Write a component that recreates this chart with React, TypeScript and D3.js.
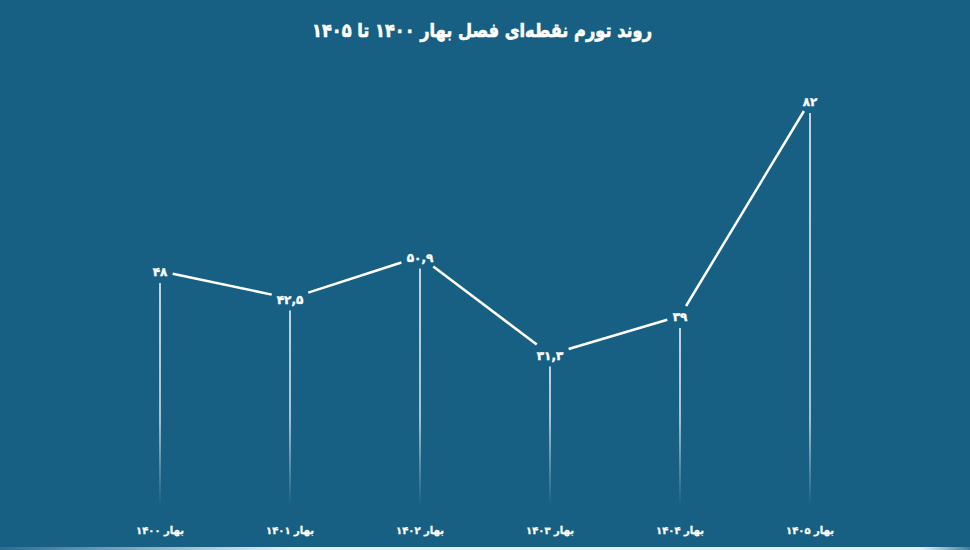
import React, { useEffect, useRef } from "react";
import * as d3 from "d3";

const categories = ["بهار ۱۴۰۰", "بهار ۱۴۰۱", "بهار ۱۴۰۲", "بهار ۱۴۰۳", "بهار ۱۴۰۴", "بهار ۱۴۰۵"];
const values = [48, 42.5, 50.9, 31.3, 39, 82];
const valueLabels = ["۴۸", "۴۲,۵", "۵۰,۹", "۳۱,۳", "۳۹", "۸۲"];
const title = "روند تورم نقطه‌ای فصل بهار ۱۴۰۰ تا ۱۴۰۵";

const W = 970;
const H = 550;
const FONT = "'DejaVu Sans', sans-serif";

const App = () => {
  const svgRef = useRef<SVGSVGElement | null>(null);

  useEffect(() => {
    const svg = d3.select(svgRef.current);
    svg.selectAll("*").remove();
    svg.attr("width", W).attr("height", H);

    const defs = svg.append("defs");
    const bottom = 505;

    const x = d3.scalePoint<string>().domain(categories).range([160, 810]);
    const y = d3.scaleLinear().domain([0, 82]).range([511, 101]);

    // background
    svg.append("rect").attr("width", W).attr("height", H).attr("fill", "#176083");

    // bottom strip
    const strip = defs.append("linearGradient").attr("id", "strip").attr("x1", "0").attr("x2", "1");
    strip.append("stop").attr("offset", "0").attr("stop-color", "#dfe9ef").attr("stop-opacity", 0.1);
    strip.append("stop").attr("offset", "0.3").attr("stop-color", "#e8eff3").attr("stop-opacity", 1);
    strip.append("stop").attr("offset", "0.95").attr("stop-color", "#e8eff3").attr("stop-opacity", 1);
    strip.append("stop").attr("offset", "1").attr("stop-color", "#e8eff3").attr("stop-opacity", 0.2);
    svg.append("rect").attr("x", 0).attr("y", 547).attr("width", W).attr("height", 3).attr("fill", "url(#strip)");

    // title
    svg
      .append("text")
      .attr("x", 482)
      .attr("y", 37)
      .attr("text-anchor", "middle")
      .attr("direction", "rtl")
      .attr("fill", "#ffffff")
      .attr("stroke", "#ffffff")
      .attr("stroke-width", 0.6)
      .attr("font-family", FONT)
      .attr("font-weight", "bold")
      .attr("font-size", 19)
      .attr("textLength", 340)
      .attr("lengthAdjust", "spacingAndGlyphs")
      .text(title);

    // drop lines with fade
    categories.forEach((c, i) => {
      const top = y(values[i]) + 12;
      const gid = `drop${i}`;
      const g = defs
        .append("linearGradient")
        .attr("id", gid)
        .attr("gradientUnits", "userSpaceOnUse")
        .attr("x1", 0)
        .attr("x2", 0)
        .attr("y1", top)
        .attr("y2", bottom);
      const fadeStart = Math.max(0, Math.min(1, (420 - top) / (bottom - top)));
      g.append("stop").attr("offset", 0).attr("stop-color", "#c7dbe6").attr("stop-opacity", 0.95);
      g.append("stop").attr("offset", fadeStart).attr("stop-color", "#c7dbe6").attr("stop-opacity", 0.8);
      g.append("stop").attr("offset", 1).attr("stop-color", "#c7dbe6").attr("stop-opacity", 0);
      svg
        .append("rect")
        .attr("x", x(c)! - 1)
        .attr("y", top)
        .attr("width", 2)
        .attr("height", bottom - top)
        .attr("fill", `url(#${gid})`);
    });

    // value labels
    const pts = categories.map((c, i) => [x(c)!, y(values[i])] as [number, number]);
    const labels = svg
      .append("g")
      .selectAll("text")
      .data(pts)
      .join("text")
      .attr("x", (d) => d[0])
      .attr("y", (d) => d[1] + 5)
      .attr("text-anchor", "middle")
      .attr("fill", "#ffffff")
      .attr("stroke", "#ffffff")
      .attr("stroke-width", 0.4)
      .attr("font-family", FONT)
      .attr("font-weight", "bold")
      .attr("font-size", 12)
      .text((_, i) => valueLabels[i]);

    const halfW = labels.nodes().map((n) => (n as SVGTextElement).getBBox().width / 2 + 5);
    const halfH = 10;
    const trim = (hw: number, ux: number, uy: number) =>
      Math.min(Math.abs(ux) > 1e-6 ? hw / Math.abs(ux) : Infinity, Math.abs(uy) > 1e-6 ? halfH / Math.abs(uy) : Infinity);

    // connecting segments, trimmed around the labels
    for (let i = 0; i < pts.length - 1; i++) {
      const [x0, y0] = pts[i];
      const [x1, y1] = pts[i + 1];
      const len = Math.hypot(x1 - x0, y1 - y0);
      const ux = (x1 - x0) / len;
      const uy = (y1 - y0) / len;
      const g0 = trim(halfW[i], ux, uy);
      const g1 = trim(halfW[i + 1], ux, uy);
      svg
        .append("line")
        .attr("x1", x0 + ux * g0)
        .attr("y1", y0 + uy * g0)
        .attr("x2", x1 - ux * g1)
        .attr("y2", y1 - uy * g1)
        .attr("stroke", "#ffffff")
        .attr("stroke-width", 2.5);
    }

    // category labels
    svg
      .append("g")
      .selectAll("text")
      .data(categories)
      .join("text")
      .attr("x", (d) => x(d)!)
      .attr("y", 534)
      .attr("text-anchor", "middle")
      .attr("direction", "rtl")
      .attr("fill", "#ffffff")
      .attr("stroke", "#ffffff")
      .attr("stroke-width", 0.3)
      .attr("font-family", FONT)
      .attr("font-weight", "bold")
      .attr("font-size", 10)
      .text((d) => d);
  }, []);

  return (
    <div style={{ position: "fixed", left: 0, top: 0 }}>
      <svg ref={svgRef} style={{ display: "block" }} />
    </div>
  );
};

export default App;
